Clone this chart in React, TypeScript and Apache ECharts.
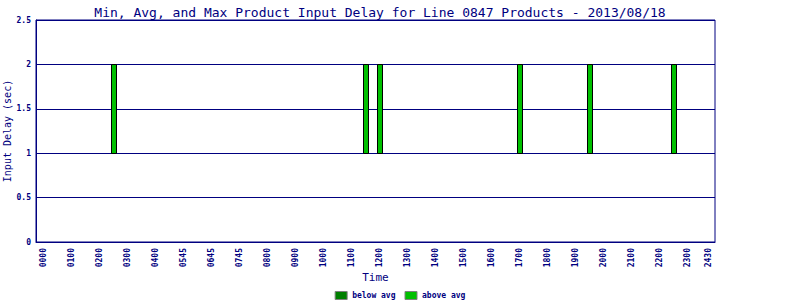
import React, { useEffect, useRef } from 'react';
import * as echarts from 'echarts';

// X axis tick positions (hours) and their labels
const xTickHours = [0, 1, 2, 3, 4, 5, 6, 7, 8, 9, 10, 11, 12, 13, 14, 15, 16, 17, 18, 19, 20, 21, 22, 23, 23.75];
const xTickLabels = ['0000', '0100', '0200', '0300', '0400', '0545', '0645', '0745', '0800', '0900', '1000', '1100', '1200', '1300', '1400', '1500', '1600', '1700', '1800', '1900', '2000', '2100', '2200', '2300', '2430'];

// Bars: time (hours) of each product slot with min / avg / max delay (sec)
const barHours = [2.5, 11.5, 12, 17, 19.5, 22.5];
const minDelay = [1, 1, 1, 1, 1, 1];
const avgDelay = [1, 1, 1, 1, 1, 1];
const maxDelay = [2, 2, 2, 2, 2, 2];

const seriesNames = ['below avg', 'above avg'];
const seriesColors = ['#008000', '#00C000'];
const NAVY = '#000080';
const FONT = 'DejaVu Sans Mono';

function rangeRender(color: string) {
  return (params: any, api: any) => {
    const x = api.value(0);
    const lo = api.value(1);
    const hi = api.value(2);
    if (!(hi > lo)) return null;
    const p0 = api.coord([x, lo]);
    const p1 = api.coord([x, hi]);
    const w = 5;
    return {
      type: 'rect',
      shape: { x: Math.round(p0[0] - w / 2) + 0.5, y: Math.round(p1[1]) + 0.5, width: w, height: Math.round(p0[1] - p1[1]) },
      style: { fill: color, stroke: '#000000', lineWidth: 1 },
    };
  };
}

export default function App() {
  const ref = useRef<HTMLDivElement>(null);
  useEffect(() => {
    if (!ref.current) return;
    const chart = echarts.init(ref.current, undefined, { renderer: 'svg' });
    const below = barHours.map((h, i) => [h, minDelay[i], avgDelay[i]]);
    const above = barHours.map((h, i) => [h, avgDelay[i], maxDelay[i]]);
    chart.setOption({
      animation: false,
      backgroundColor: '#ffffff',
      title: {
        text: 'Min, Avg, and Max Product Input Delay for Line 0847 Products - 2013/08/18',
        left: 375,
        textAlign: 'center',
        top: 1,
        textStyle: { fontFamily: FONT, fontSize: 13, fontWeight: 'normal', color: NAVY },
      },
      legend: {
        data: seriesNames,
        top: 291,
        left: 'center',
        icon: 'rect',
        itemWidth: 12,
        itemHeight: 8,
        itemGap: 9,
        itemStyle: { borderColor: '#808080', borderWidth: 1 },
        textStyle: { fontFamily: FONT, fontSize: 8, fontWeight: 'bold', color: NAVY },
        padding: 0,
      },
      grid: {
        left: 36,
        right: 85,
        top: 20,
        bottom: 58,
        outerBoundsMode: 'none',
        containLabel: false,
        show: true,
        borderColor: NAVY,
        borderWidth: 1,
        backgroundColor: 'transparent',
      },
      xAxis: {
        type: 'value',
        min: -0.25,
        max: 24,
        name: 'Time',
        nameLocation: 'middle',
        nameGap: 30,
        nameMoveOverlap: false,
        nameTextStyle: { fontFamily: FONT, fontSize: 11, color: NAVY },
        axisLine: { show: true, onZero: false, lineStyle: { color: NAVY, width: 1 } },
        axisTick: { show: false },
        splitLine: { show: false },
        axisLabel: {
          customValues: xTickHours,
          rotate: 90,
          margin: 6,
          fontFamily: FONT,
          fontSize: 8,
          fontWeight: 'bold',
          color: NAVY,
          formatter: (v: number) => {
            const i = xTickHours.findIndex((h) => Math.abs(h - v) < 1e-6);
            return i >= 0 ? xTickLabels[i] : '';
          },
        },
      },
      yAxis: {
        type: 'value',
        min: 0,
        max: 2.5,
        interval: 0.5,
        name: 'Input Delay (sec)',
        nameLocation: 'middle',
        nameGap: 24,
        nameMoveOverlap: false,
        nameTextStyle: { fontFamily: FONT, fontSize: 10, color: NAVY },
        axisLine: { show: true, onZero: false, lineStyle: { color: NAVY, width: 1 } },
        axisTick: { show: false },
        splitLine: { show: true, lineStyle: { color: NAVY, width: 1 } },
        axisLabel: {
          margin: 5,
          fontFamily: FONT,
          fontSize: 8,
          fontWeight: 'bold',
          color: NAVY,
        },
      },
      series: [
        {
          name: seriesNames[0],
          type: 'custom',
          data: below,
          encode: { x: 0, y: [1, 2] },
          itemStyle: { color: seriesColors[0] },
          renderItem: rangeRender(seriesColors[0]),
        },
        {
          name: seriesNames[1],
          type: 'custom',
          data: above,
          encode: { x: 0, y: [1, 2] },
          itemStyle: { color: seriesColors[1] },
          renderItem: rangeRender(seriesColors[1]),
        },
      ],
    });
    return () => chart.dispose();
  }, []);
  return <div ref={ref} style={{ position: 'absolute', left: 0, top: 0, width: 800, height: 300 }} />;
}
